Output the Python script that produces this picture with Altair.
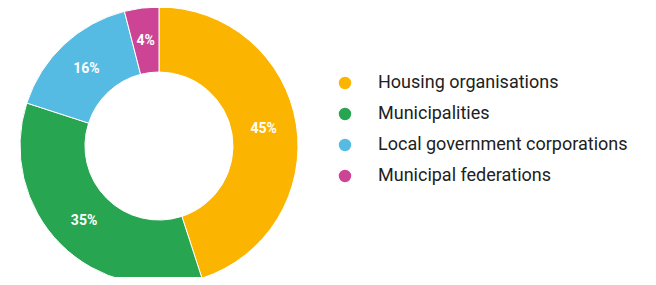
import altair as alt
import pandas as pd

categories = ["Housing organisations", "Municipalities", "Local government corporations", "Municipal federations"]
values = [45, 35, 16, 4]
labels = ["45%", "35%", "16%", "4%"]
colors = ["#FBB500", "#27A550", "#55BBE3", "#CC4493"]

df = pd.DataFrame({
    "category": categories,
    "value": values,
    "label": labels,
    "order": list(range(len(categories))),
})

cx, cy = 151, 138

base = alt.Chart(df).encode(
    theta=alt.Theta("value:Q", stack=True),
    order=alt.Order("order:Q"),
)

arcs = base.mark_arc(outerRadius=139, innerRadius=74, stroke="white", strokeWidth=1).encode(
    x=alt.value(cx),
    y=alt.value(cy),
    color=alt.Color(
        "category:N",
        scale=alt.Scale(domain=categories, range=colors),
        legend=alt.Legend(
            title=None,
            orient="none",
            legendX=328,
            legendY=66,
            symbolType="circle",
            symbolSize=154,
            symbolStrokeWidth=0,
            labelFont="Roboto",
            labelFontSize=18,
            labelColor="#212121",
            labelOffset=24,
            rowPadding=13,
            labelLimit=400,
        ),
    ),
)

text = base.mark_text(
    radius=106, font="Roboto", fontSize=14, fontWeight="bold", color="white"
).encode(
    x=alt.value(cx),
    y=alt.value(cy),
    text="label:N",
)

chart = (arcs + text).properties(
    width=640, height=269,
    autosize=alt.AutoSizeParams(type="none"),
    padding=0,
).configure_view(stroke=None)

chart.save("out.html", embed_options={"renderer": "svg", "actions": False})
